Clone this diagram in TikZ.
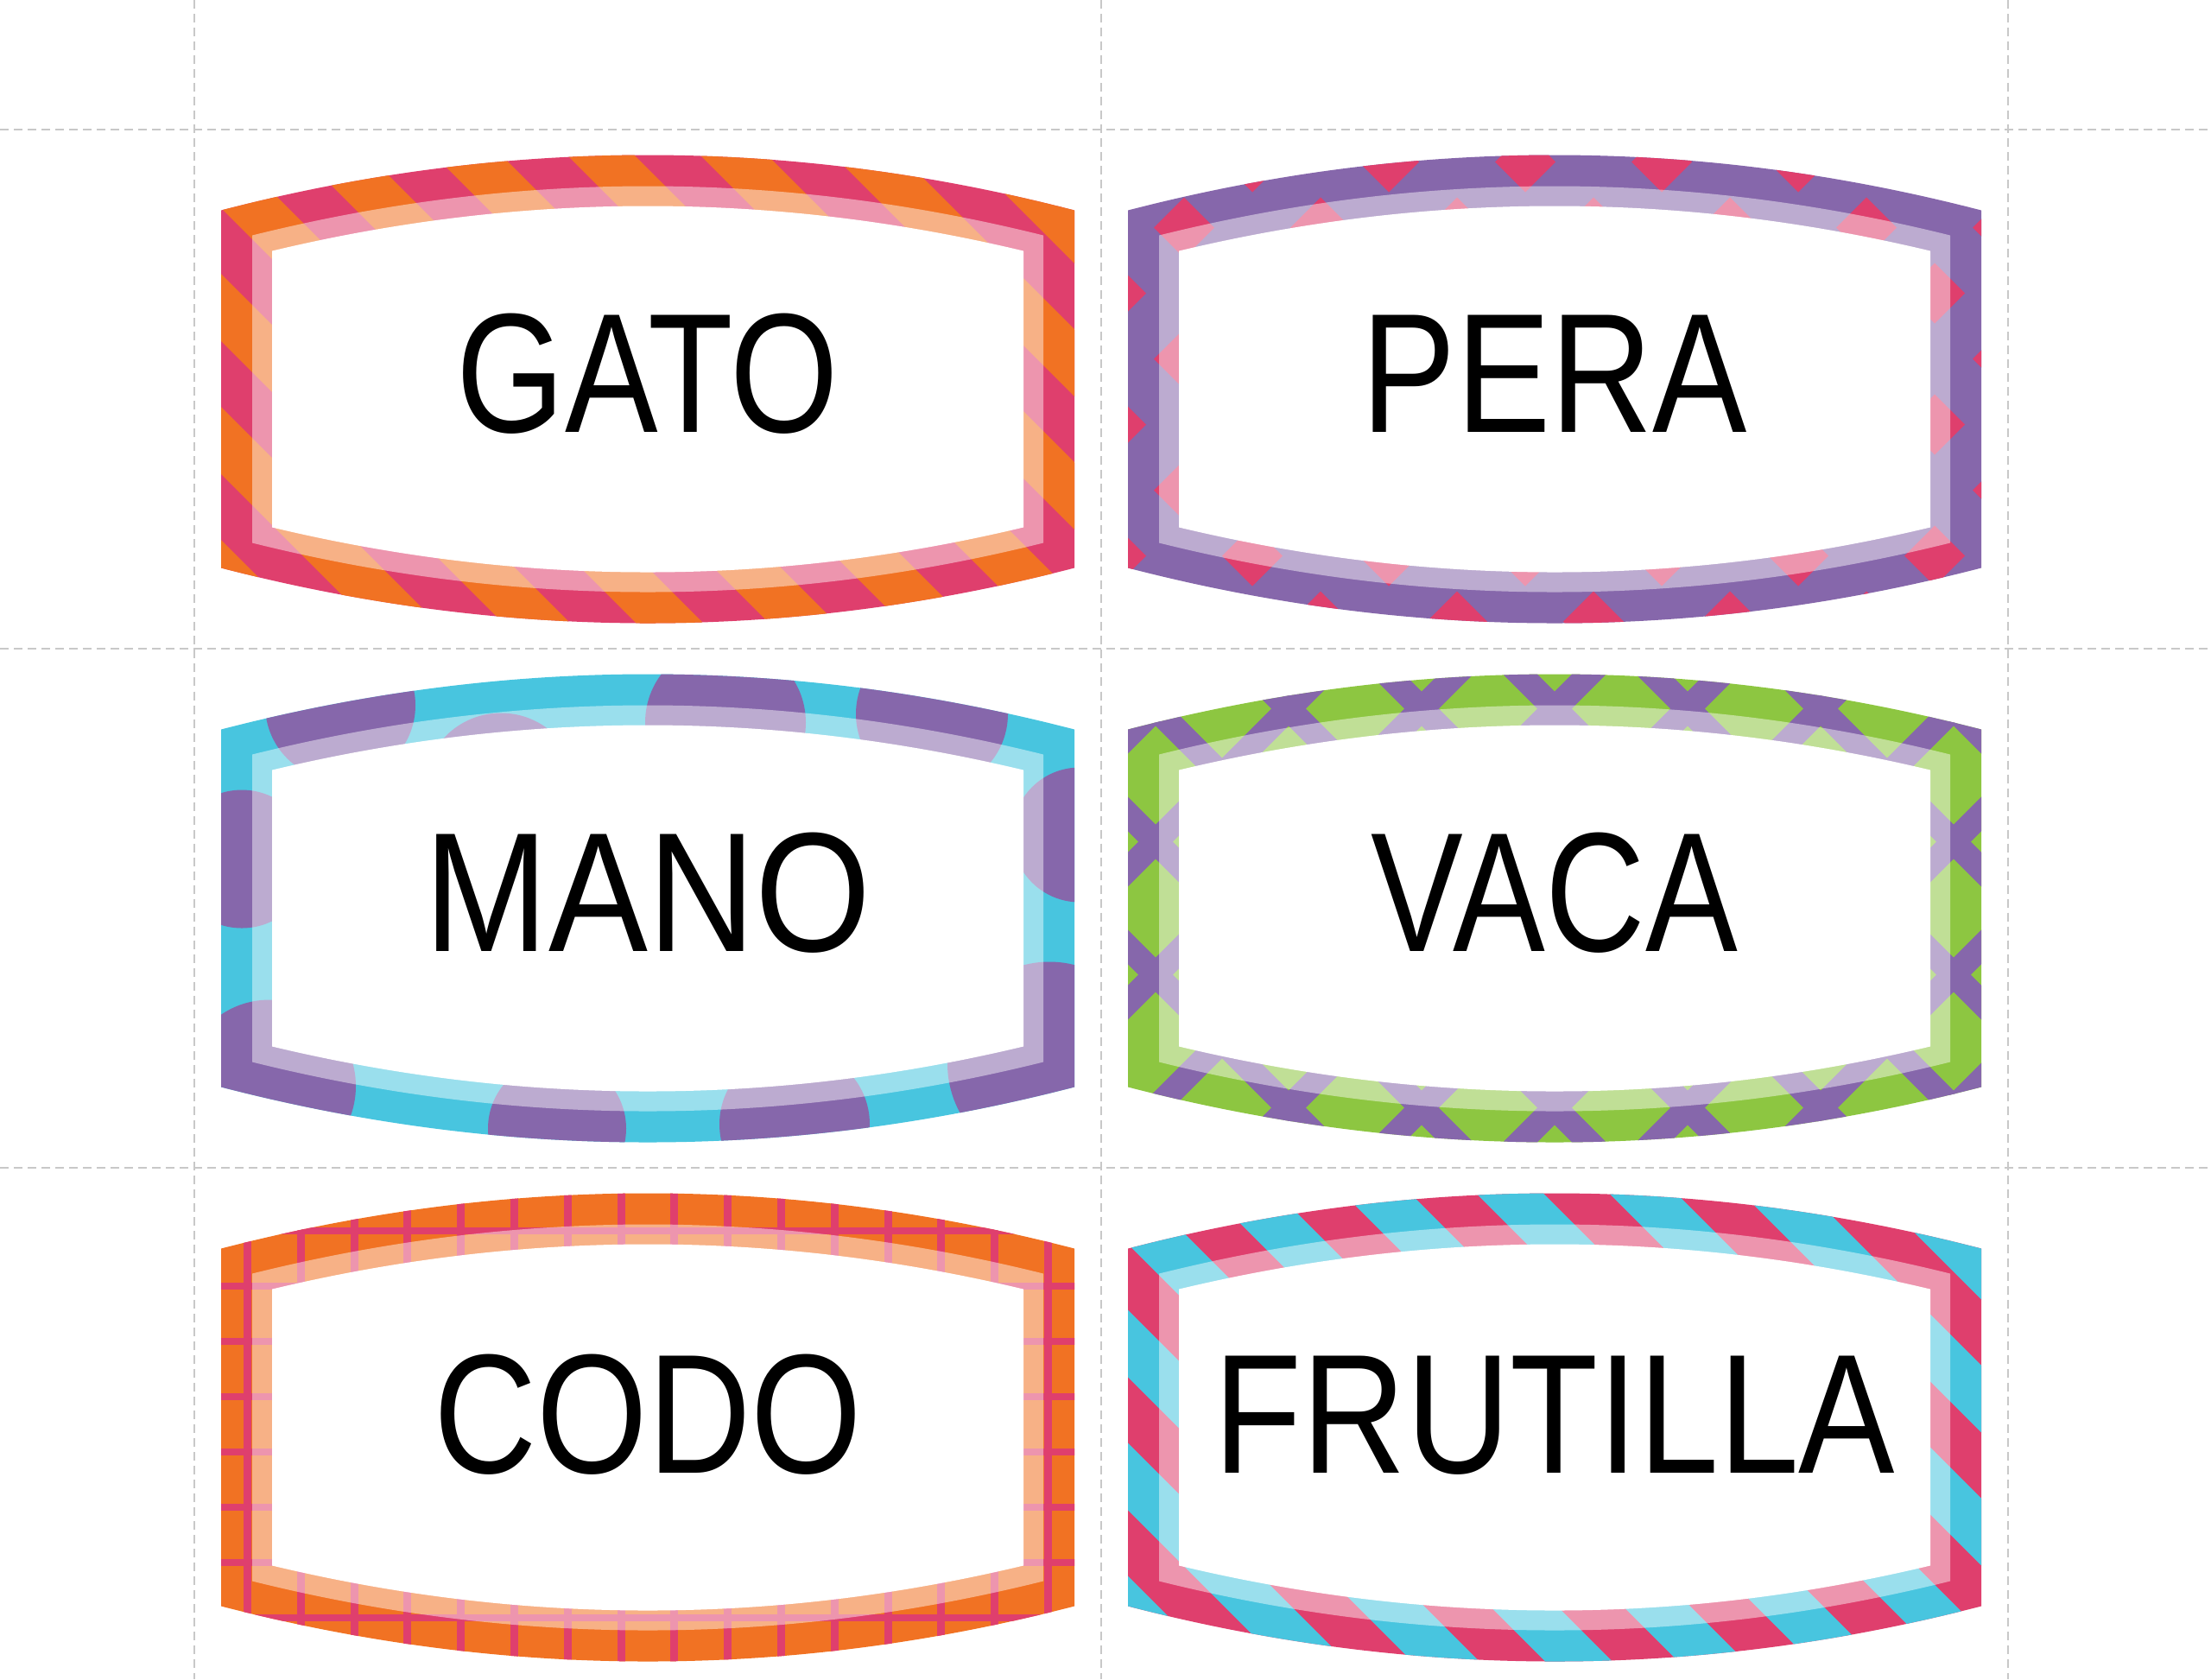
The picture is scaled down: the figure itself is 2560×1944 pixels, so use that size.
\documentclass[tikz,border=0pt]{standalone}
\usepackage{fontspec}
\usepackage{graphicx}
\newfontfamily\wordfont{Liberation Sans}
\definecolor{laborange}{HTML}{F17223}
\definecolor{labpink}{HTML}{DF3F6D}
\definecolor{labpurple}{HTML}{8667AB}
\definecolor{labcyan}{HTML}{48C5DF}
\definecolor{labgreen}{HTML}{8DC641}
\definecolor{cutgray}{HTML}{C8C8C8}
\tikzstyle{word}=[anchor=base,inner sep=0pt,font=\wordfont\fontsize{56}{62}\selectfont]
\tikzstyle{lightband}=[fill=white,fill opacity=0.45]
\tikzstyle{cutline}=[draw=cutgray,line width=0.43pt,dash pattern=on 0.1cm off 0.06cm]
\tikzstyle{stripe}=[line width=0.55cm]
% half width, corner half height, middle half height
\newcommand{\labelshape}[3]{(-#1,-#2) .. controls ({-#1/3},{-(4*#3-#2)/3}) and ({#1/3},{-(4*#3-#2)/3}) .. (#1,-#2)
  -- (#1,#2) .. controls ({#1/3},{(4*#3-#2)/3}) and ({-#1/3},{(4*#3-#2)/3}) .. (-#1,#2) -- cycle}
\newcommand{\outerband}{\labelshape{494}{207}{271}}
\newcommand{\midband}{\labelshape{458}{178}{235}}
\newcommand{\innerband}{\labelshape{435}{160}{212}}

\begin{document}
\begin{tikzpicture}[x=0.01cm,y=-0.01cm]
    \useasboundingbox (0,0) rectangle (2560,1944);
    \fill[white] (0,0) rectangle (2560,1944);

    \draw[cutline] (225,0) -- (225,1944);
    \draw[cutline] (1275,0) -- (1275,1944);
    \draw[cutline] (2325,0) -- (2325,1944);
    \draw[cutline] (0,150) -- (2560,150);
    \draw[cutline] (0,751) -- (2560,751);
    \draw[cutline] (0,1352) -- (2560,1352);

    % GATO
    \begin{scope}[shift={(750,450.5)}]
        \begin{scope}
            \clip \outerband;
            \fill[labpink] (-520,-300) rectangle (520,300);
            \foreach \n in {-3,...,8}
                \draw[stripe,laborange] ({-399.5+154*\n-600},-600) -- ({-399.5+154*\n+600},600);
        \end{scope}
        \fill[lightband] \midband;
        \fill[white] \innerband;
        \node (gato) [word] at (0,50) {\scalebox{0.819}[1]{GATO}};
    \end{scope}

    % PERA
    \begin{scope}[shift={(1800,450.5)}]
        \begin{scope}
            \clip \outerband;
            \fill[labpurple] (-520,-300) rectangle (520,300);
            \foreach \j in {0,...,9}
                \foreach \i in {-4,...,4}
                    \fill[labpink] ({-34+158*\i+79*mod(\j+1,2)},{-339+76*\j})
                        +(0,-35) -- +(35,0) -- +(0,35) -- +(-35,0) -- cycle;
        \end{scope}
        \fill[lightband] \midband;
        \fill[white] \innerband;
        \node (pera) [word] at (0,50) {\scalebox{0.832}[1]{PERA}};
    \end{scope}

    % MANO
    \begin{scope}[shift={(750,1051.5)}]
        \begin{scope}
            \clip \outerband;
            \fill[labcyan] (-520,-300) rectangle (520,300);
            \foreach \cx/\cy/\r in {-356/-235/87,90/-215/93,329/-225/88,-170/-136/90,-470/-57/80,
                -438/206/100,-105/255/80,170/250/87,465/180/118,500/-85/78}
                \fill[labpurple] (\cx,\cy) circle[radius=\r];
        \end{scope}
        \fill[lightband] \midband;
        \fill[white] \innerband;
        \node (mano) [word] at (0,49.5) {\scalebox{0.875}[1]{MANO}};
    \end{scope}

    % VACA
    \begin{scope}[shift={(1800,1051.5)}]
        \begin{scope}
            \clip \outerband;
            \fill[labgreen] (-520,-300) rectangle (520,300);
            \foreach \k in {-5,...,7} {
                \draw[labpurple,line width=0.28cm] ({231+154*\k-600},-600) -- ({231+154*\k+600},600);
                \draw[labpurple,line width=0.28cm] ({-231+154*\k+600},-600) -- ({-231+154*\k-600},600);
            }
        \end{scope}
        \fill[lightband] \midband;
        \fill[white] \innerband;
        \node (vaca) [word] at (0,49.5) {\scalebox{0.813}[1]{VACA}};
    \end{scope}

    % CODO
    \begin{scope}[shift={(750,1652.5)}]
        \begin{scope}
            \clip \outerband;
            \fill[laborange] (-520,-300) rectangle (520,300);
            \foreach \k in {-8,...,9}
                \draw[labpink,line width=0.09cm] ({-31+61.8*\k},-300) -- ({-31+61.8*\k},300);
            \foreach \k in {-5,...,5}
                \draw[labpink,line width=0.08cm] (-520,{-35.5+64*\k}) -- (520,{-35.5+64*\k});
        \end{scope}
        \fill[lightband] \midband;
        \fill[white] \innerband;
        \node (codo) [word] at (0,52.5) {\scalebox{0.839}[1]{CODO}};
    \end{scope}

    % FRUTILLA
    \begin{scope}[shift={(1800,1652.5)}]
        \begin{scope}
            \clip \outerband;
            \fill[labpink] (-520,-300) rectangle (520,300);
            \foreach \n in {-3,...,8}
                \draw[stripe,labcyan] ({-397+154*\n-600},-600) -- ({-397+154*\n+600},600);
        \end{scope}
        \fill[lightband] \midband;
        \fill[white] \innerband;
        \node (frutilla) [word] at (0,52.5) {\scalebox{0.848}[1]{FRUTILLA}};
    \end{scope}
\end{tikzpicture}
\end{document}
